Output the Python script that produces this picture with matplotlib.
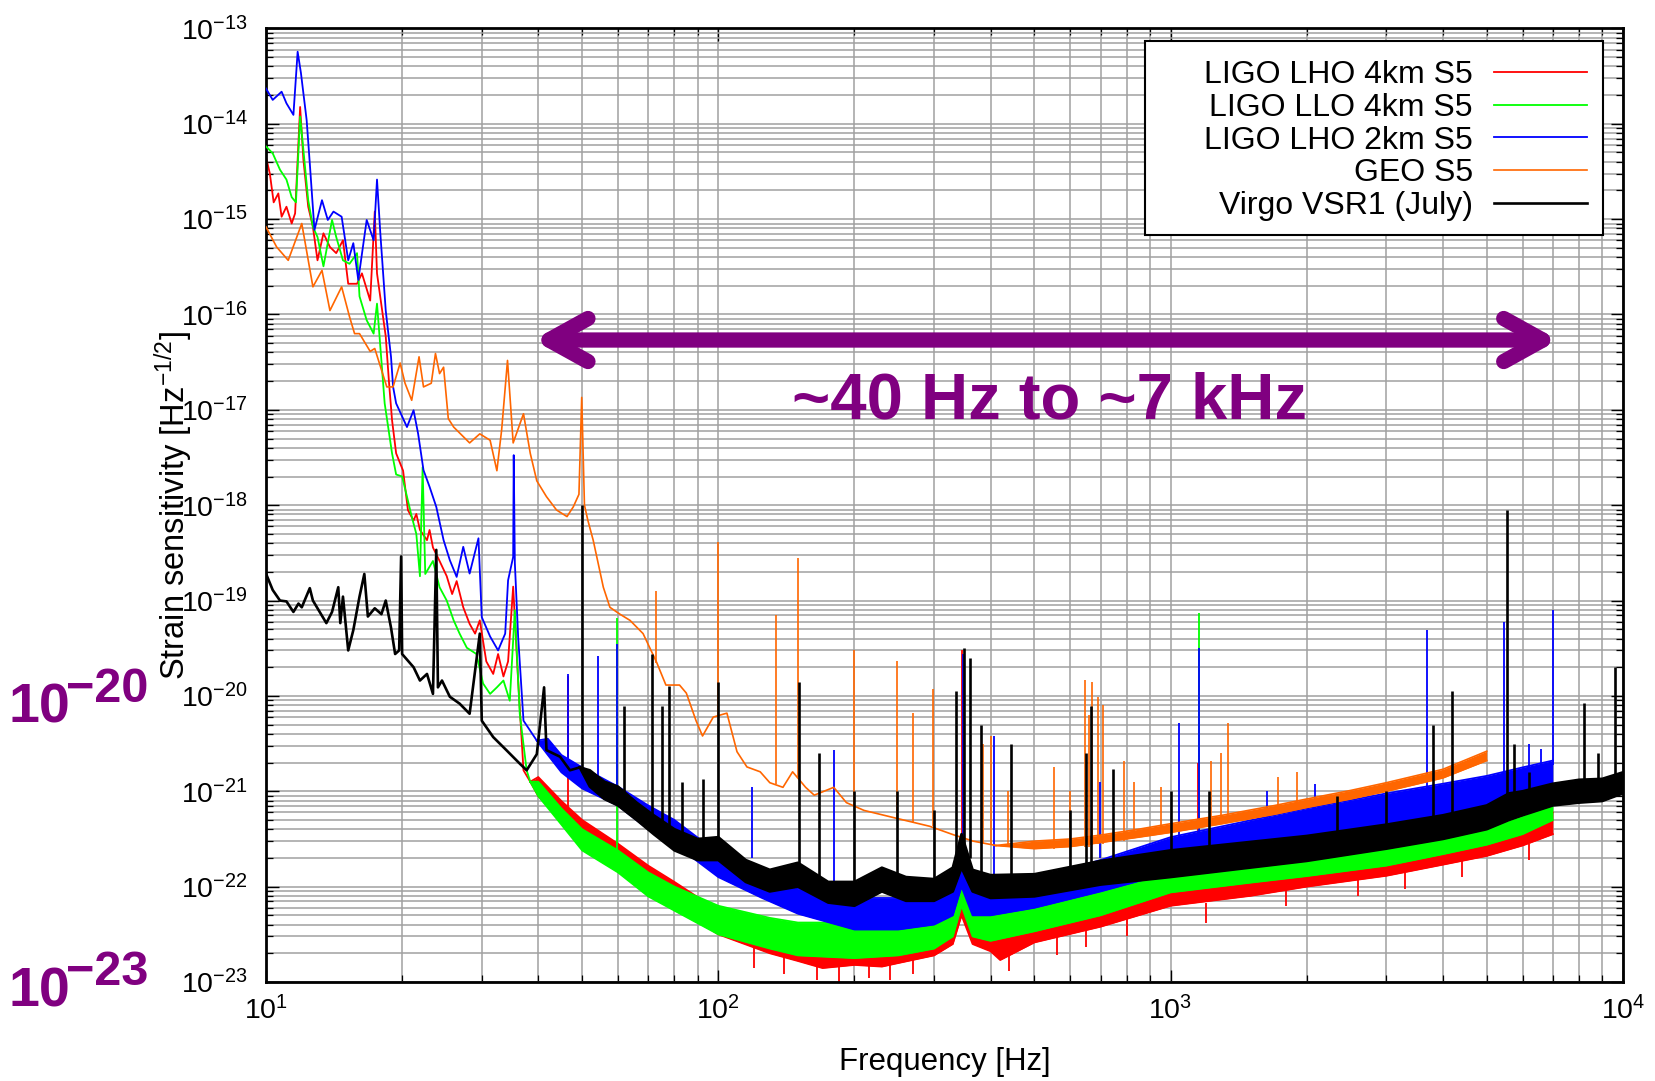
import numpy as np
import matplotlib.pyplot as plt
from matplotlib.patches import FancyArrowPatch, Rectangle
from matplotlib.ticker import LogLocator, NullFormatter

plt.rcParams['font.family'] = ['Liberation Sans', 'DejaVu Sans']
plt.rcParams['mathtext.fontset'] = 'custom'
plt.rcParams['mathtext.rm'] = 'Liberation Sans'
plt.rcParams['mathtext.it'] = 'Liberation Sans:italic'
plt.rcParams['mathtext.bf'] = 'Liberation Sans:bold'

labels = ['LIGO LHO 4km S5', 'LIGO LLO 4km S5', 'LIGO LHO 2km S5', 'GEO S5', 'Virgo VSR1 (July)']
colors = ['#ff0000', '#00ff00', '#0000ff', '#ff6600', '#000000']
x_ticks = [10, 100, 1000, 10000]
y_ticks = [1e-23, 1e-22, 1e-21, 1e-20, 1e-19, 1e-18, 1e-17, 1e-16, 1e-15, 1e-14, 1e-13]

# ---- LIGO LHO 4km (red) ----
red_line_f = [10.0, 10.2, 10.4, 10.65, 10.83, 11.1, 11.4, 11.6, 11.9, 12.1, 12.4, 12.7, 13.0, 13.4,
              13.85, 14.3, 14.8, 15.2, 15.9, 16.3, 17.0, 17.4, 17.6, 18.4, 18.7, 19.0, 19.4, 20.1,
              20.6, 21.2, 21.5, 21.9, 22.7, 23.0, 23.4, 24.2, 25.1, 25.8, 26.4, 27.3, 28.2, 29.0,
              29.7, 30.7, 31.8, 32.6, 33.5, 34.3, 35.2, 36.1, 37.1, 38.4]
red_line_h = [4.5e-15, 3.0e-15, 1.5e-15, 1.86e-15, 1.06e-15, 1.35e-15, 9.0e-16, 1.15e-15, 1.5e-14,
              4.2e-15, 1.35e-15, 8.3e-16, 3.7e-16, 7.1e-16, 5.1e-16, 4.4e-16, 6.0e-16, 2.1e-16,
              2.1e-16, 2.7e-16, 1.4e-16, 1.2e-15, 2.7e-16, 5.9e-17, 2.0e-17, 7.8e-18, 3.5e-18,
              2.3e-18, 8.9e-19, 6.9e-19, 8.1e-19, 5.5e-19, 4.3e-19, 5.5e-19, 3.6e-19, 2.6e-19,
              1.8e-19, 1.17e-19, 1.6e-19, 8.5e-20, 5.7e-20, 4.5e-20, 6.2e-20, 2.3e-20, 1.7e-20,
              2.75e-20, 1.6e-20, 2.3e-20, 1.4e-19, 1.45e-20, 1.66e-21, 1.26e-21]
red_band_f = [38.4, 40, 45, 50, 60, 70, 80, 100, 130, 150, 170, 200, 230, 250, 300, 330, 345, 365,
              400, 420, 500, 700, 1000, 1500, 2000, 3000, 4000, 5000, 6000, 7000]
red_band_lo = [1.26e-21, 8.9e-22, 5.0e-22, 3.16e-22, 1.78e-22, 1.0e-22, 6.3e-23, 3.16e-23, 2.0e-23,
               1.66e-23, 1.4e-23, 1.51e-23, 1.45e-23, 1.58e-23, 1.9e-23, 2.5e-23, 5.0e-23, 2.5e-23,
               2.1e-23, 1.7e-23, 2.6e-23, 3.8e-23, 6.3e-23, 8.0e-23, 1.0e-22, 1.3e-22, 1.7e-22,
               2.1e-22, 2.7e-22, 3.55e-22]
red_band_hi = [1.26e-21, 1.41e-21, 7.9e-22, 5.0e-22, 2.82e-22, 1.66e-22, 1.12e-22, 5.6e-23, 3.55e-23,
               3.16e-23, 3.0e-23, 3.0e-23, 3.0e-23, 3.16e-23, 3.55e-23, 4.5e-23, 1.0e-22, 4.5e-23,
               4.0e-23, 4.2e-23, 5.0e-23, 7.1e-23, 1.12e-22, 1.45e-22, 1.78e-22, 2.3e-22, 2.8e-22,
               3.55e-22, 4.5e-22, 6.0e-22]
red_spike_f = [46.5, 345, 1150]
red_spike_base = [6.0e-22, 1.0e-22, 1.2e-22]
red_spike_top = [1.6e-20, 3.0e-20, 2.0e-21]
red_dip_f = [120, 140, 165, 185, 215, 240, 270, 440, 560, 650, 800, 1200, 1800, 2600, 3300, 4400, 6200]
red_dip_top = [2.5e-23, 2.0e-23, 1.6e-23, 1.6e-23, 1.6e-23, 1.6e-23, 1.8e-23, 2.2e-23, 3.0e-23,
               3.6e-23, 4.6e-23, 6.8e-23, 9.5e-23, 1.2e-22, 1.4e-22, 1.85e-22, 2.8e-22]
red_dip_bottom = [1.4e-23, 1.2e-23, 1.05e-23, 1.0e-23, 1.1e-23, 1.05e-23, 1.2e-23, 1.3e-23, 1.9e-23,
                  2.3e-23, 3.0e-23, 4.2e-23, 6.2e-23, 8.0e-23, 9.5e-23, 1.25e-22, 1.9e-22]

# ---- LIGO LLO 4km (green) ----
green_line_f = [10.0, 10.35, 10.74, 11.1, 11.4, 11.65, 11.9, 12.1, 12.4, 12.7, 13.0, 13.4, 14.0,
                14.3, 14.8, 15.3, 15.9, 16.1, 16.7, 17.3, 17.6, 17.9, 18.3, 19.0, 19.4, 20.0, 20.5,
                21.0, 21.5, 21.9, 22.2, 22.5, 23.4, 24.2, 25.1, 26.0, 26.8, 27.8, 29.2, 30.2, 31.3,
                32.4, 33.5, 34.6, 35.5, 36.4, 37.7, 38.4]
green_line_h = [5.8e-15, 4.9e-15, 3.3e-15, 2.6e-15, 1.7e-15, 1.5e-15, 1.19e-14, 5.3e-15, 1.58e-15,
                8.3e-16, 6.5e-16, 3.2e-16, 9.8e-16, 6.5e-16, 3.7e-16, 3.4e-16, 4.4e-16, 1.55e-16,
                8.7e-17, 6.3e-17, 1.3e-16, 4.6e-17, 1.17e-17, 3.5e-18, 2.1e-18, 2.0e-18, 1.23e-18,
                7.6e-19, 5.0e-19, 1.8e-19, 2.5e-18, 1.9e-19, 2.6e-19, 1.38e-19, 1.0e-19, 6.2e-20,
                4.5e-20, 3.2e-20, 2.75e-20, 1.35e-20, 1.05e-20, 1.23e-20, 1.45e-20, 8.9e-21, 7.9e-20,
                6.5e-21, 1.66e-21, 1.26e-21]
green_band_f = [38.4, 40, 45, 50, 60, 70, 80, 100, 130, 150, 200, 250, 300, 330, 345, 365, 400,
                500, 700, 1000, 1500, 2000, 3000, 4000, 5000, 6000, 7000]
green_band_lo = [1.26e-21, 8.9e-22, 4.47e-22, 2.4e-22, 1.41e-22, 7.9e-23, 5.6e-23, 3.16e-23, 2.24e-23,
                 1.9e-23, 1.78e-23, 1.9e-23, 2.24e-23, 3.0e-23, 6.3e-23, 3.0e-23, 2.7e-23, 3.4e-23,
                 5.0e-23, 8.7e-23, 1.1e-22, 1.29e-22, 1.66e-22, 2.19e-22, 2.75e-22, 3.55e-22, 5.0e-22]
green_band_hi = [1.26e-21, 1.26e-21, 6.6e-22, 4.0e-22, 2.4e-22, 1.41e-22, 1.0e-22, 6.3e-23, 4.7e-23,
                 4.2e-23, 4.2e-23, 4.4e-23, 4.8e-23, 5.6e-23, 1.26e-22, 5.4e-23, 5.0e-23, 6.3e-23,
                 8.9e-23, 1.45e-22, 1.74e-22, 2.04e-22, 2.63e-22, 3.39e-22, 4.17e-22, 5.5e-22, 7.6e-22]
green_spike_f = [59.8, 1154]
green_spike_base = [2.3e-22, 1.4e-22]
green_spike_top = [6.5e-20, 7.4e-20]

# ---- LIGO LHO 2km (blue) ----
blue_line_f = [10.0, 10.35, 10.83, 11.1, 11.5, 11.75, 11.95, 12.05, 12.3, 12.5, 12.8, 13.3, 13.7,
               14.1, 14.7, 15.2, 15.6, 16.0, 16.7, 17.3, 17.6, 17.9, 18.4, 18.9, 19.1, 19.4, 20.5,
               21.2, 21.7, 22.3, 23.0, 23.8, 24.7, 25.5, 26.4, 27.3, 28.2, 29.5, 30.0, 31.3, 32.6,
               33.8, 34.3, 35.2, 35.3, 35.5, 36.1, 37.1, 39.7]
blue_line_h = [2.35e-14, 1.78e-14, 2.17e-14, 1.64e-14, 1.24e-14, 5.7e-14, 3.4e-14, 2.45e-14, 1.1e-14,
               3.85e-15, 7.7e-16, 1.58e-15, 9.8e-16, 1.2e-15, 1.06e-15, 3.7e-16, 5.6e-16, 2.3e-16,
               9.8e-16, 6.0e-16, 2.6e-15, 7.1e-16, 1.1e-16, 3.6e-17, 1.75e-17, 1.17e-17, 6.6e-18,
               9.9e-18, 5.6e-18, 2.33e-18, 1.56e-18, 9.6e-19, 4.3e-19, 2.65e-19, 1.77e-19, 3.66e-19,
               1.92e-19, 4.5e-19, 6.7e-20, 4.2e-20, 3.0e-20, 4.5e-20, 1.63e-19, 2.87e-19, 3.35e-18,
               2.5e-19, 4.2e-20, 5.5e-21, 3.4e-21]
blue_band_f = [39.7, 42, 45, 50, 60, 70, 80, 100, 125, 150, 200, 250, 300, 330, 345, 365, 400,
               500, 700, 1000, 2000, 3000, 4000, 5000, 6000, 7000]
blue_band_lo = [3.4e-21, 2.4e-21, 1.58e-21, 1.07e-21, 7.1e-22, 4.0e-22, 2.8e-22, 1.26e-22, 7.6e-23,
                5.2e-23, 3.55e-23, 3.55e-23, 4.0e-23, 5.0e-23, 1.0e-22, 5.0e-23, 5.0e-23, 6.0e-23,
                8.9e-23, 1.41e-22, 2.63e-22, 3.55e-22, 4.47e-22, 5.6e-22, 7.1e-22, 8.9e-22]
blue_band_hi = [3.4e-21, 3.55e-21, 2.4e-21, 1.78e-21, 1.12e-21, 7.1e-22, 5.0e-22, 2.24e-22, 1.32e-22,
                9.5e-23, 7.6e-23, 7.6e-23, 7.9e-23, 9.5e-23, 2.24e-22, 8.9e-23, 9.5e-23, 1.2e-22,
                1.9e-22, 3.3e-22, 6.6e-22, 9.5e-22, 1.2e-21, 1.45e-21, 1.78e-21, 2.1e-21]
blue_spike_f = [46.5, 54.2, 59.8, 118.7, 180, 348, 406, 698, 1042, 1154, 1636, 2085, 3684, 5450,
                6200, 6600, 7000]
blue_spike_base = [2.0e-21, 1.4e-21, 9.0e-22, 2.0e-22, 1.0e-22, 2.0e-22, 1.0e-22, 2.0e-22, 3.0e-22,
                   3.0e-22, 5.0e-22, 6.0e-22, 1.0e-21, 1.3e-21, 1.6e-21, 1.8e-21, 1.9e-21]
blue_spike_top = [1.7e-20, 2.6e-20, 3.5e-20, 1.1e-21, 2.7e-21, 2.75e-20, 3.8e-21, 1.26e-21, 5.2e-21,
                  3.16e-20, 1.0e-21, 1.2e-21, 4.9e-20, 6.0e-20, 3.16e-21, 2.8e-21, 8.0e-20]

# ---- GEO S5 (orange) ----
geo_line_f = [10.0, 10.56, 11.2, 12.0, 12.7, 13.3, 13.85, 14.7, 15.3, 15.7, 16.1, 17.0, 17.4, 18.5,
              19.1, 19.8, 20.3, 21.0, 21.8, 22.3, 23.2, 23.7, 24.2, 24.7, 25.3, 26.0, 28.2, 29.7,
              31.3, 32.4, 33.2, 34.2, 35.2, 37.1, 38.4, 39.7, 41.7, 43.9, 46.3, 47.8, 49.2, 49.9,
              50.6, 51.5, 52.9, 55.7, 57.6, 60.6, 63.8, 68.2, 73.1, 76.6, 82.1, 85.0, 89.3, 92.3,
              97.5, 104.5, 110, 115.7, 123.8, 130, 139, 146, 156, 163, 180, 192, 210, 248, 293,
              331, 366, 411]
geo_line_h = [8.3e-16, 5.1e-16, 3.7e-16, 9.0e-16, 1.95e-16, 2.9e-16, 1.1e-16, 1.95e-16, 9.5e-17,
              6.3e-17, 6.3e-17, 4.1e-17, 4.4e-17, 1.74e-17, 1.74e-17, 3.1e-17, 1.9e-17, 1.26e-17,
              3.6e-17, 1.74e-17, 1.9e-17, 3.9e-17, 2.4e-17, 2.8e-17, 8.1e-18, 6.6e-18, 4.5e-18,
              5.6e-18, 4.8e-18, 2.3e-18, 6.2e-18, 3.3e-17, 4.5e-18, 9.1e-18, 3.5e-18, 1.8e-18,
              1.23e-18, 8.9e-19, 7.6e-19, 9.6e-19, 1.3e-18, 1.35e-17, 1.0e-18, 6.9e-19, 4.3e-19,
              1.38e-19, 8.5e-20, 7.2e-20, 6.2e-20, 4.5e-20, 2.24e-20, 1.3e-20, 1.3e-20, 1.07e-20,
              5.5e-21, 3.8e-21, 6.0e-21, 6.6e-21, 2.6e-21, 1.8e-21, 1.6e-21, 1.23e-21, 1.1e-21,
              1.6e-21, 1.1e-21, 9.1e-22, 1.1e-21, 7.6e-22, 6.3e-22, 5.2e-22, 4.3e-22, 3.5e-22,
              3.0e-22, 2.7e-22]
geo_band_f = [411, 500, 600, 700, 850, 1000, 1300, 1700, 2000, 2500, 3000, 4000, 5000]
geo_band_lo = [2.7e-22, 2.5e-22, 2.63e-22, 2.9e-22, 3.3e-22, 3.7e-22, 4.57e-22, 5.75e-22, 6.76e-22,
               8.3e-22, 1.0e-21, 1.38e-21, 2.1e-21]
geo_band_hi = [2.7e-22, 3.0e-22, 3.16e-22, 3.47e-22, 4.0e-22, 4.57e-22, 5.6e-22, 7.1e-22, 8.3e-22,
               1.02e-21, 1.23e-21, 1.7e-21, 2.63e-21]
geo_spike_f = [72.9, 100, 134, 150, 200, 248, 270, 298, 384, 400, 437, 552, 600, 646, 660, 672,
               690, 710, 790, 830, 950, 1230, 1290, 1340, 1730, 1900]
geo_spike_base = [2.2e-20, 6.0e-21, 1.2e-21, 1.4e-21, 7.0e-22, 5.2e-22, 4.7e-22, 4.3e-22, 2.8e-22,
                  2.8e-22, 2.6e-22, 2.5e-22, 2.5e-22, 2.6e-22, 2.6e-22, 2.7e-22, 2.8e-22, 2.8e-22,
                  3.0e-22, 3.2e-22, 3.6e-22, 4.5e-22, 4.6e-22, 4.8e-22, 6.0e-22, 7.0e-22]
geo_spike_top = [1.26e-19, 4.1e-19, 7.1e-20, 2.8e-19, 3.0e-20, 2.3e-20, 6.6e-21, 1.17e-20, 3.16e-21,
                 3.8e-21, 1.0e-21, 1.78e-21, 1.0e-21, 1.48e-20, 6.3e-21, 1.41e-20, 9.8e-21, 8.1e-21,
                 2.1e-21, 1.26e-21, 1.1e-21, 2.1e-21, 2.5e-21, 5.2e-21, 1.4e-21, 1.58e-21]

# ---- Virgo VSR1 (black) ----
virgo_line_f = [10.0, 10.35, 10.74, 11.1, 11.5, 11.8, 12.0, 12.5, 12.7, 13.6, 14.0, 14.45, 14.6,
                14.8, 15.2, 15.6, 16.1, 16.5, 16.8, 17.4, 18.0, 18.4, 18.9, 19.3, 19.7, 19.9, 20.0,
                21.2, 21.9, 22.7, 23.4, 23.8, 24.0, 24.5, 25.5, 26.8, 28.2, 29.7, 30.0, 31.8, 34.0,
                36.4, 37.7, 39.7, 41.2, 41.7, 44.7, 47.0, 49.4]
virgo_line_h = [1.92e-19, 1.29e-19, 1.0e-19, 9.8e-20, 7.6e-20, 9.3e-20, 8.5e-20, 1.35e-19, 1.0e-19,
                5.8e-20, 7.6e-20, 1.38e-19, 5.8e-20, 1.1e-19, 3.0e-20, 4.9e-20, 1.1e-19, 1.9e-19,
                6.8e-20, 8.3e-20, 7.2e-20, 1.0e-19, 5.2e-20, 2.75e-20, 3.0e-20, 2.9e-19, 2.75e-20,
                2.0e-20, 1.45e-20, 1.7e-20, 1.05e-20, 3.4e-19, 1.23e-20, 1.45e-20, 9.8e-21, 8.3e-21,
                6.5e-21, 4.5e-20, 5.5e-21, 3.7e-21, 2.7e-21, 1.95e-21, 1.66e-21, 2.45e-21, 1.23e-20,
                2.7e-21, 2.3e-21, 1.66e-21, 1.78e-21]
virgo_band_f = [49.4, 52, 56, 60, 66, 72, 80, 90, 100, 115, 130, 150, 175, 200, 230, 260, 300,
                330, 345, 365, 400, 500, 700, 1000, 2000, 3000, 4000, 5000, 5600, 6000, 7000,
                8000, 9000, 10000]
virgo_band_lo = [1.78e-21, 1.12e-21, 8.3e-22, 7.1e-22, 5.0e-22, 3.55e-22, 2.4e-22, 1.9e-22, 1.9e-22,
                 1.12e-22, 8.9e-23, 1.0e-22, 6.8e-23, 6.3e-23, 8.9e-23, 7.1e-23, 7.1e-23, 8.9e-23,
                 1.58e-22, 8.9e-23, 7.6e-23, 7.9e-23, 1.05e-22, 1.26e-22, 1.86e-22, 2.5e-22, 3.16e-22,
                 4.0e-22, 5.0e-22, 5.6e-22, 7.1e-22, 7.6e-22, 7.9e-22, 9.5e-22]
virgo_band_hi = [1.78e-21, 1.66e-21, 1.26e-21, 1.12e-21, 7.6e-22, 5.6e-22, 4.0e-22, 3.16e-22, 3.3e-22,
                 1.9e-22, 1.5e-22, 1.78e-22, 1.12e-22, 1.12e-22, 1.58e-22, 1.26e-22, 1.2e-22, 1.58e-22,
                 3.55e-22, 1.5e-22, 1.32e-22, 1.35e-22, 1.86e-22, 2.4e-22, 3.4e-22, 4.47e-22, 5.6e-22,
                 7.1e-22, 9.5e-22, 1.0e-21, 1.2e-21, 1.32e-21, 1.35e-21, 1.58e-21]
virgo_spike_f = [50, 62, 71.4, 75, 78, 83, 92.5, 100, 151, 167, 200, 248, 300, 335, 350, 360, 380,
                 443, 600, 650, 667, 745, 1000, 1213, 2330, 3000, 3800, 4200, 5530, 5750, 6200,
                 8200, 8800, 9600]
virgo_spike_base = [1.6e-21, 9.0e-22, 4.5e-22, 4.0e-22, 3.0e-22, 2.5e-22, 2.5e-22, 3.0e-22, 1.6e-22,
                    1.0e-22, 1.0e-22, 1.0e-22, 1.0e-22, 1.5e-22, 2.5e-22, 2.0e-22, 1.2e-22, 1.1e-22,
                    1.2e-22, 1.2e-22, 1.2e-22, 1.3e-22, 1.8e-22, 1.9e-22, 2.8e-22, 3.5e-22, 4.5e-22,
                    4.5e-22, 6.0e-22, 7.0e-22, 7.0e-22, 8.0e-22, 8.0e-22, 9.0e-22]
virgo_spike_top = [1.0e-18, 7.9e-21, 2.75e-20, 7.9e-21, 1.26e-20, 1.26e-21, 1.35e-21, 1.41e-20,
                   1.41e-20, 2.5e-21, 1.0e-21, 1.0e-21, 6.3e-22, 1.12e-20, 3.16e-20, 2.5e-20,
                   5.0e-21, 3.16e-21, 6.3e-22, 2.5e-21, 7.9e-21, 1.7e-21, 1.0e-21, 1.0e-21, 8.9e-22,
                   1.0e-21, 5.0e-21, 1.12e-20, 8.9e-19, 3.16e-21, 1.58e-21, 8.5e-21, 2.5e-21, 2.0e-20]

# annotation values
arrow_f = [39, 7200]
arrow_h = 5.4e-17
range_text_f = 541
range_text_h = 8.2e-18
purple = '#800080'

fig = plt.figure(figsize=(16.55, 10.81), dpi=100)
ax = fig.add_axes([0.1607, 0.0916, 0.8199, 0.8821])
ax.set_xscale('log')
ax.set_yscale('log')
ax.set_xlim(10, 1e4)
ax.set_ylim(1e-23, 1e-13)

series = [
    (red_line_f, red_line_h, red_band_f, red_band_lo, red_band_hi, red_spike_f, red_spike_base, red_spike_top),
    (green_line_f, green_line_h, green_band_f, green_band_lo, green_band_hi, green_spike_f, green_spike_base, green_spike_top),
    (blue_line_f, blue_line_h, blue_band_f, blue_band_lo, blue_band_hi, blue_spike_f, blue_spike_base, blue_spike_top),
    (geo_line_f, geo_line_h, geo_band_f, geo_band_lo, geo_band_hi, geo_spike_f, geo_spike_base, geo_spike_top),
    (virgo_line_f, virgo_line_h, virgo_band_f, virgo_band_lo, virgo_band_hi, virgo_spike_f, virgo_spike_base, virgo_spike_top),
]

handles = []
for k, (lf, lh, bf, blo, bhi, sf, sb, st) in enumerate(series):
    col = colors[k]
    lw = 1.9 if k == 4 else (1.2 if k == 3 else 1.3)
    z = 2 + k
    h, = ax.plot(lf, lh, color=col, lw=lw, zorder=z, label=labels[k])
    handles.append(h)
    ax.fill_between(bf, blo, bhi, color=col, lw=0, zorder=z)
    ax.plot(bf, blo, color=col, lw=lw, zorder=z)
    ax.plot(bf, bhi, color=col, lw=lw, zorder=z)
    ax.vlines(sf, sb, st, color=col, lw=lw, zorder=z)
    if k == 0:
        # noise dips below the red band
        ax.vlines(red_dip_f, red_dip_bottom, red_dip_top, color=col, lw=lw, zorder=z)

# axes styling
ax.set_xticks(x_ticks)
ax.set_yticks(y_ticks)
ax.xaxis.set_minor_locator(LogLocator(base=10, subs=np.arange(2, 10), numticks=100))
ax.yaxis.set_minor_locator(LogLocator(base=10, subs=np.arange(2, 10), numticks=200))
ax.xaxis.set_minor_formatter(NullFormatter())
ax.yaxis.set_minor_formatter(NullFormatter())
ax.tick_params(which='both', direction='in', top=True, right=True)
ax.tick_params(which='major', length=9, width=1.0, labelsize=20.5)
ax.tick_params(which='minor', length=5, width=0.9)
ax.tick_params(axis='x', which='major', pad=10)
ax.tick_params(axis='y', which='major', pad=13)
ax.grid(True, which='both', color='#a0a0a0', lw=1.1)
ax.set_axisbelow(True)
for s in ax.spines.values():
    s.set_linewidth(2.0)

ax.set_xlabel('Frequency [Hz]', fontsize=22.5)
ax.xaxis.set_label_coords(0.5, -0.068)
ax.set_ylabel(r'Strain sensitivity [Hz$^{-1/2}$]', fontsize=23.5)
ax.yaxis.set_label_coords(-0.052, 0.5)

# legend (text left of the sample line, right aligned)
frame = Rectangle((0.6478, 0.7834), 0.3375, 0.2030, transform=ax.transAxes,
                  facecolor='white', edgecolor='black', lw=1.5, zorder=7)
ax.add_patch(frame)
leg = ax.legend(handles=handles, loc='upper right', bbox_to_anchor=(0.9733, 0.9664),
                markerfirst=False, frameon=False, fontsize=23, handlelength=2.9,
                handletextpad=0.66, labelspacing=0.08, borderpad=0, borderaxespad=0)
leg.set_zorder(8)

# purple annotations
arr = FancyArrowPatch((arrow_f[0], arrow_h), (arrow_f[1], arrow_h),
                      arrowstyle='<->,head_length=28,head_width=15.5', mutation_scale=1,
                      lw=11, color=purple, capstyle='round', joinstyle='round',
                      shrinkA=0, shrinkB=0, zorder=9)
ax.add_patch(arr)
ax.text(range_text_f, range_text_h, '~40 Hz to ~7 kHz', fontsize=47, fontweight='bold',
        color=purple, ha='center', va='baseline', zorder=9)

fig.text(0.0054, 0.3312, '10', fontsize=40, fontweight='bold', color=purple)
fig.text(0.0399, 0.3509, '\u221220', fontsize=35, fontweight='bold', color=purple)
fig.text(0.0054, 0.0685, '10', fontsize=40, fontweight='bold', color=purple)
fig.text(0.0399, 0.0888, '\u221223', fontsize=35, fontweight='bold', color=purple)

fig.savefig('out.png', dpi=100)
